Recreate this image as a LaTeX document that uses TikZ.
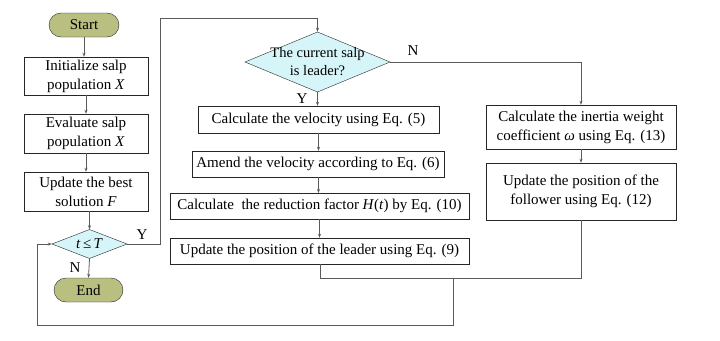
\documentclass[tikz,border=0pt]{standalone}
\usepackage{fontspec}
\setmainfont{Liberation Serif}
\usetikzlibrary{shapes.geometric,arrows.meta}
\definecolor{olivefill}{HTML}{B8BF80}
\definecolor{cyanfill}{HTML}{D6F5F8}
\definecolor{linegray}{HTML}{5A5A5A}
\begin{document}
\begin{tikzpicture}[x=1pt,y=-1pt,
  every node/.style={font=\fontsize{15}{19}\selectfont},
  term/.style={draw=black!85,fill=olivefill,rounded corners=12pt,minimum width=70pt,minimum height=24pt,inner sep=0pt},
  procbox/.style={draw=black!85,fill=white,inner sep=0pt,align=center},
  decbox/.style={inner sep=0pt,align=center},
  decshape/.style={draw=black!85,fill=cyanfill},
  conn/.style={draw=linegray,line width=0.8pt},
  arr/.style={conn,-{Stealth[length=4pt,width=3pt]}},
  lbl/.style={inner sep=1pt}]
\useasboundingbox (0,0) rectangle (720,340);
% decision shapes drawn as polygons behind their text nodes
\path[decshape] (52,244) -- (89.5,229.5) -- (127,244) -- (89.5,258.5) -- cycle;
\path[decshape] (245,62) -- (317.5,32) -- (390,62) -- (317.5,92) -- cycle;
% left column
\node[term] (start) at (84,25) {Start};
\node[procbox,minimum width=124pt,minimum height=38pt] (init) at (86,76) {Initialize salp\\population \textit{X}};
\node[procbox,minimum width=124pt,minimum height=39pt] (eval) at (86,133.5) {Evaluate salp\\population \textit{X}};
\node[procbox,minimum width=124pt,minimum height=39pt] (best) at (86,191.5) {Update the best\\solution \textit{F}};
\node[decbox,minimum width=75pt,minimum height=29pt] (cond) at (89.5,244) {\textit{t}\,≤\,\textit{T}};
\node[term,minimum width=69pt] (end) at (88.5,290) {End};
% leader branch
\node[decbox,minimum width=145pt,minimum height=60pt,font=\fontsize{14.5}{18}\selectfont] (lead) at (317.5,62) {The current salp\\is leader?};
\node[procbox,minimum width=241pt,minimum height=27pt] (vel) at (318.5,119.5) {Calculate the velocity using Eq. (5)};
\node[procbox,minimum width=252pt,minimum height=26pt] (amend) at (318,164) {Amend the velocity according to Eq. (6)};
\node[procbox,minimum width=299pt,minimum height=26pt] (red) at (319.5,206) {Calculate\ \ the reduction factor \textit{H}(\textit{t}) by Eq. (10)};
\node[procbox,minimum width=299pt,minimum height=26pt] (upl) at (319.5,251) {Update the position of the leader using Eq. (9)};
% follower branch
\node[procbox,minimum width=190pt,minimum height=44pt] (inert) at (581,127) {Calculate the inertia weight\\coefficient \textit{ω} using Eq. (13)};
\node[procbox,minimum width=190pt,minimum height=57pt] (fol) at (581,191.5) {Update the position of the\\follower using Eq. (12)};
% coordinates
\coordinate (yr) at (160,244);
\coordinate (yt) at (160,18);
\coordinate (lt) at (317.5,18);
\coordinate (nr) at (581,62);
\coordinate (m1) at (320,278);
\coordinate (m2) at (581,278);
\coordinate (m3) at (453,278);
\coordinate (b1) at (453,325);
\coordinate (b2) at (37,325);
\coordinate (b3) at (37,244);
% connectors left column
\draw[arr] (start.south) -- (start.south |- init.north);
\draw[arr] (init.south) -- (init.south |- eval.north);
\draw[arr] (eval.south) -- (eval.south |- best.north);
\draw[arr] (89.5,211) -- (cond.north);
\draw[arr] (cond.south) -- (end.north);
\node[lbl] at (75,268) {N};
% Y branch to leader decision
\draw[arr] (cond.east) -- (yr) -- (yt) -- (lt) -- (lead.north);
\node[lbl] at (142,235) {Y};
% leader chain
\draw[arr] (lead.south) -- (lead.south |- vel.north);
\node[lbl] at (302,99) {Y};
\draw[arr] (vel.south) -- (vel.south |- amend.north);
\draw[arr] (318.5,177) -- (318.5,193);
\draw[arr] (319.5,219) -- (upl.north);
% N branch
\draw[arr] (lead.east) -- (nr) -- (inert.north);
\node[lbl] at (413,51) {N};
\draw[arr] (inert.south) -- (fol.north);
% merge and loop back
\draw[conn] (upl.south -| m1) -- (m1) -- (m2) -- (fol.south);
\draw[arr] (m3) -- (b1) -- (b2) -- (b3) -- (cond.west);
\end{tikzpicture}
\end{document}
